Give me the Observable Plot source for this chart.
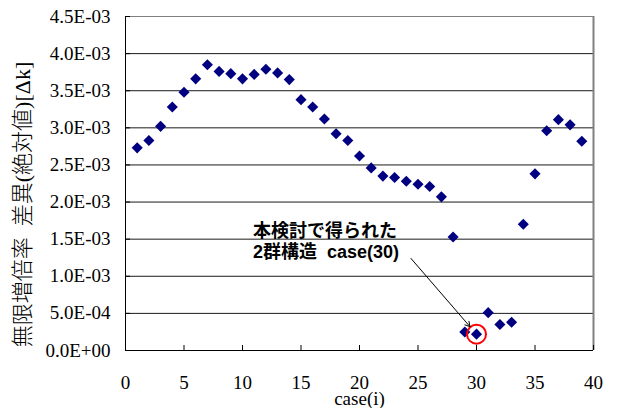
<!DOCTYPE html>
<html><head><meta charset="utf-8">
<script src="https://cdn.jsdelivr.net/npm/d3@7"></script>
<script src="https://cdn.jsdelivr.net/npm/@observablehq/plot@0.6"></script>
<style>body{margin:0;background:#fff;} #chart svg{display:block;}</style>
</head><body><div id="chart"></div>
<script>
// ---- data ----
const cases = [1,2,3,4,5,6,7,8,9,10,11,12,13,14,15,16,17,18,19,20,21,22,23,24,25,26,27,28,29,30,31,32,33,34,35,36,37,38,39];
const dk = [2.73e-3,2.83e-3,3.02e-3,3.28e-3,3.48e-3,3.66e-3,3.85e-3,3.76e-3,3.73e-3,3.66e-3,
            3.72e-3,3.79e-3,3.74e-3,3.65e-3,3.38e-3,3.28e-3,3.12e-3,2.92e-3,2.83e-3,2.62e-3,
            2.46e-3,2.35e-3,2.33e-3,2.28e-3,2.24e-3,2.21e-3,2.07e-3,1.53e-3,0.25e-3,0.22e-3,
            0.51e-3,0.35e-3,0.38e-3,1.70e-3,2.38e-3,2.96e-3,3.11e-3,3.04e-3,2.82e-3];
const highlightCase = 30;
const xTicks = [0,5,10,15,20,25,30,35,40];
const xTickLabels = ["0","5","10","15","20","25","30","35","40"];
const yTicks = [0,0.0005,0.001,0.0015,0.002,0.0025,0.003,0.0035,0.004,0.0045];
const yTickLabels = ["0.0E+00","5.0E-04","1.0E-03","1.5E-03","2.0E-03","2.5E-03","3.0E-03","3.5E-03","4.0E-03","4.5E-03"];
const xTitle = "case(i)";
const yTitle = "無限増倍率\u00a0\u00a0差異(絶対値)[Δk]";
const noteText = "本検討で得られた\n2群構造\u00a0\u00a0case(30)";
const notePos = [10.9, 0.00174];     // label anchor (data units)
const arrowFrom = [24.4, 0.00124];   // arrow tail (data units)

// ---- build ----
const data = cases.map((c, i) => ({c, v: dk[i]}));
const hi = data.filter(d => d.c === highlightCase);
const W = 619, H = 408, mL = 125, mR = 26, mT = 16, mB = 58;
const frameW = W - mL - mR, frameH = H - mT - mB;
const serif = "'Liberation Serif', 'Times New Roman', 'Noto Sans CJK JP', serif";
const yMax = yTicks[yTicks.length - 1], xMax = xTicks[xTicks.length - 1];

const chart = Plot.plot({
  width: W, height: H,
  marginLeft: mL, marginRight: mR, marginTop: mT, marginBottom: mB,
  style: {fontFamily: serif, fontSize: "19px", background: "#fff", color: "#000", overflow: "visible"},
  x: {domain: [0, xMax], axis: null},
  y: {domain: [0, yMax], axis: null},
  marks: [
    Plot.ruleY(yTicks.filter(v => v > 0 && v < yMax), {y: d => d, stroke: "#1a1a1a"}),
    Plot.ruleY([yMax], {y: d => d, stroke: "#808080"}),
    Plot.ruleX([xMax], {x: d => d, stroke: "#808080", strokeWidth: 2}),
    Plot.ruleX([0], {x: d => d, stroke: "#000"}),
    Plot.ruleY([0], {y: d => d, stroke: "#000"}),
    Plot.tickX(xTicks, {x: d => d, insetTop: frameH - 5, stroke: "#000"}),
    Plot.tickY(yTicks, {y: d => d, insetRight: frameW - 5, stroke: "#000"}),
    Plot.text(xTicks, {x: d => d, text: (d, i) => xTickLabels[i], frameAnchor: "bottom", lineAnchor: "middle",
                       dy: 32, fontSize: 19, fontFamily: serif, fill: "#000"}),
    Plot.text(yTicks, {y: d => d, text: (d, i) => yTickLabels[i], frameAnchor: "left", textAnchor: "end",
                       lineAnchor: "middle", dx: -15, fontSize: 19, fontFamily: serif, fill: "#000"}),
    Plot.dot(data, {x: "c", y: "v", symbol: "diamond2", r: 5, fill: "#000080", stroke: "none"}),
    Plot.dot(hi, {x: "c", y: "v", r: 9.5, fill: "none", stroke: "#ff0000", strokeWidth: 2}),
    Plot.arrow(hi, {x1: () => arrowFrom[0], y1: () => arrowFrom[1], x2: "c", y2: "v", insetEnd: 10,
                    stroke: "#000", strokeWidth: 1, headLength: 8}),
    Plot.text([noteText], {x: () => notePos[0], y: () => notePos[1], text: d => d, textAnchor: "start",
                    lineAnchor: "top", lineHeight: 1.2, fontSize: 18, fontWeight: "bold",
                    fontFamily: "'Liberation Sans', Arial, 'Noto Sans CJK JP', sans-serif", fill: "#000"}),
    Plot.text([yTitle], {frameAnchor: "left", text: d => d, rotate: -90, textAnchor: "middle", lineAnchor: "middle",
                    dx: -103, dy: 21, fontSize: 22, fontWeight: 300, fontFamily: serif, fill: "#000"}),
    Plot.text([xTitle], {frameAnchor: "bottom", text: d => d, lineAnchor: "middle", dy: 48,
                    fontSize: 19, fontFamily: serif, fill: "#000"})
  ]
});
document.getElementById("chart").appendChild(chart);
</script>
</body></html>
